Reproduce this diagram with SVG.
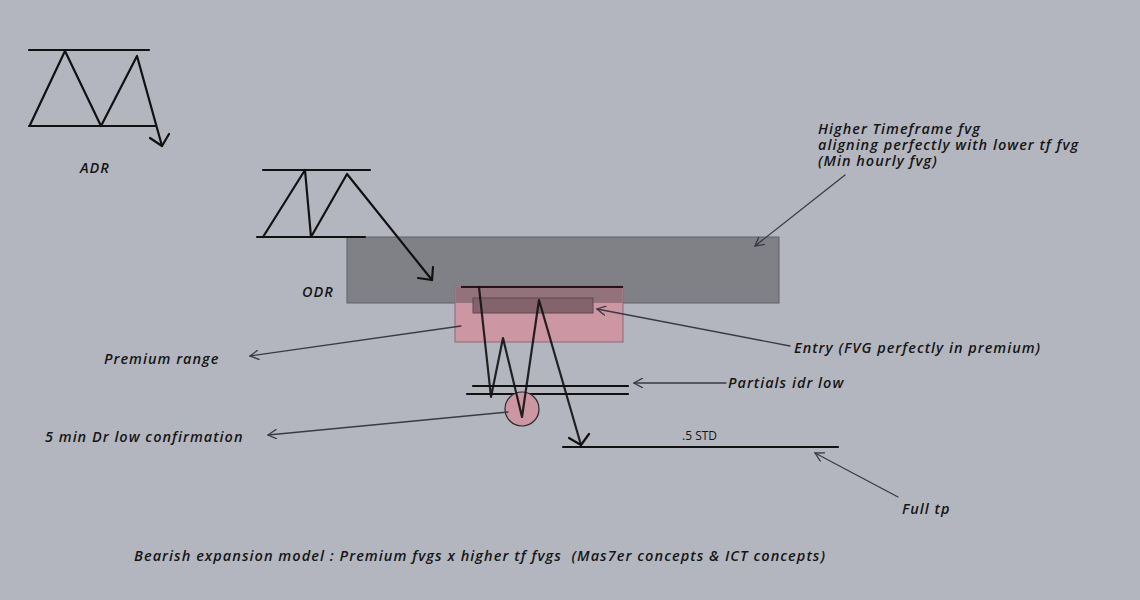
<svg xmlns="http://www.w3.org/2000/svg" width="1140" height="600" viewBox="0 0 1140 600">
<style>
.k{stroke:#111;stroke-width:2.2;fill:none;stroke-linecap:round;stroke-linejoin:round}
.a{stroke:#3a3a44;stroke-width:1.3;fill:none;stroke-linecap:round}
.t{font-family:"Open Sans","DejaVu Sans",sans-serif;font-style:italic;font-weight:600;font-size:14.5px;letter-spacing:1px;fill:#161616}
.s{font-family:"Open Sans","DejaVu Sans",sans-serif;font-size:12px;fill:#161616}
</style>
<defs>
<marker id="ah" viewBox="0 0 10 10" refX="9" refY="5" markerWidth="10" markerHeight="10" markerUnits="userSpaceOnUse" orient="auto">
<path d="M0,0 L9,5 L0,10" fill="none" stroke="#3a3a44" stroke-width="1.3"/>
</marker>
</defs>
<rect width="1140" height="600" fill="#b4b6bf"/>
<g id="htf-fvg">
<rect x="347" y="237" width="432" height="66" fill="#808087" stroke="#5e5e66" stroke-width="1"/>
</g>
<g id="premium-range">
<rect x="455" y="286" width="168" height="56" fill="#cc96a2" stroke="#8a6a72" stroke-width="1"/>
<rect x="455.5" y="286.5" width="167" height="16.5" fill="#94727c"/>
<rect x="473" y="298" width="120" height="15" fill="#85636d" stroke="#5e4850" stroke-width="1"/>
</g>
<g id="adr">
<line class="k" x1="29" y1="50" x2="149" y2="50"/>
<line class="k" x1="29" y1="126" x2="156" y2="126"/>
<polyline class="k" points="30,125 65,51 101,126 137,56 162,146"/>
<polyline class="k" points="150,138 162,146 169,134"/>
<text class="t" x="80" y="173">ADR</text>
</g>
<g id="odr">
<line class="k" x1="263" y1="170" x2="370" y2="170"/>
<line class="k" x1="257" y1="237" x2="365" y2="237"/>
<polyline class="k" points="263,237 305,170 311,237 347,174 432,280"/>
<polyline class="k" points="418,278 432,280 433,267"/>
<text class="t" x="302" y="297">ODR</text>
</g>
<g id="price-path">
<line x1="461" y1="287" x2="623" y2="287" stroke="#2a1018" stroke-width="2.2"/>
<line class="k" x1="473" y1="386" x2="628" y2="386"/>
<line class="k" x1="467" y1="394" x2="628" y2="394"/>
<circle cx="522" cy="409" r="17" fill="#cc96a2" stroke="#2a2a2a" stroke-width="1.2"/>
<polyline points="479,287 491,397 503,338 522,417 539,300 581,445" fill="none" stroke="#111" stroke-width="2.2" stroke-linejoin="round" stroke-linecap="round" stroke-opacity="0.9"/>
<polyline class="k" points="569,438 581,445 589,434"/>
</g>
<g id="full-tp">
<line class="k" x1="563" y1="447" x2="838" y2="447"/>
<text class="s" x="682" y="440">.5 STD</text>
</g>
<g id="connectors">
<line class="a" x1="845" y1="175" x2="755" y2="246" marker-end="url(#ah)"/>
<line class="a" x1="790" y1="346" x2="597" y2="309" marker-end="url(#ah)"/>
<line class="a" x1="726" y1="383" x2="634" y2="383" marker-end="url(#ah)"/>
<line class="a" x1="461" y1="326" x2="250" y2="356" marker-end="url(#ah)"/>
<line class="a" x1="508" y1="412" x2="268" y2="435" marker-end="url(#ah)"/>
<line class="a" x1="898" y1="497" x2="815" y2="453" marker-end="url(#ah)"/>
</g>
<g id="labels">
<text class="t" x="818" y="134">Higher Timeframe fvg</text>
<text class="t" x="818" y="150">aligning perfectly with lower tf fvg</text>
<text class="t" x="818" y="166">(Min hourly fvg)</text>
<text class="t" x="104" y="364">Premium range</text>
<text class="t" x="794" y="353">Entry (FVG perfectly in premium)</text>
<text class="t" x="728" y="388">Partials idr low</text>
<text class="t" x="45" y="442">5 min Dr low confirmation</text>
<text class="t" x="902" y="514">Full tp</text>
<text class="t" x="134" y="561" textLength="692" lengthAdjust="spacingAndGlyphs" xml:space="preserve">Bearish expansion model : Premium fvgs x higher tf fvgs  (Mas7er concepts &amp; ICT concepts)</text>
</g>
</svg>
